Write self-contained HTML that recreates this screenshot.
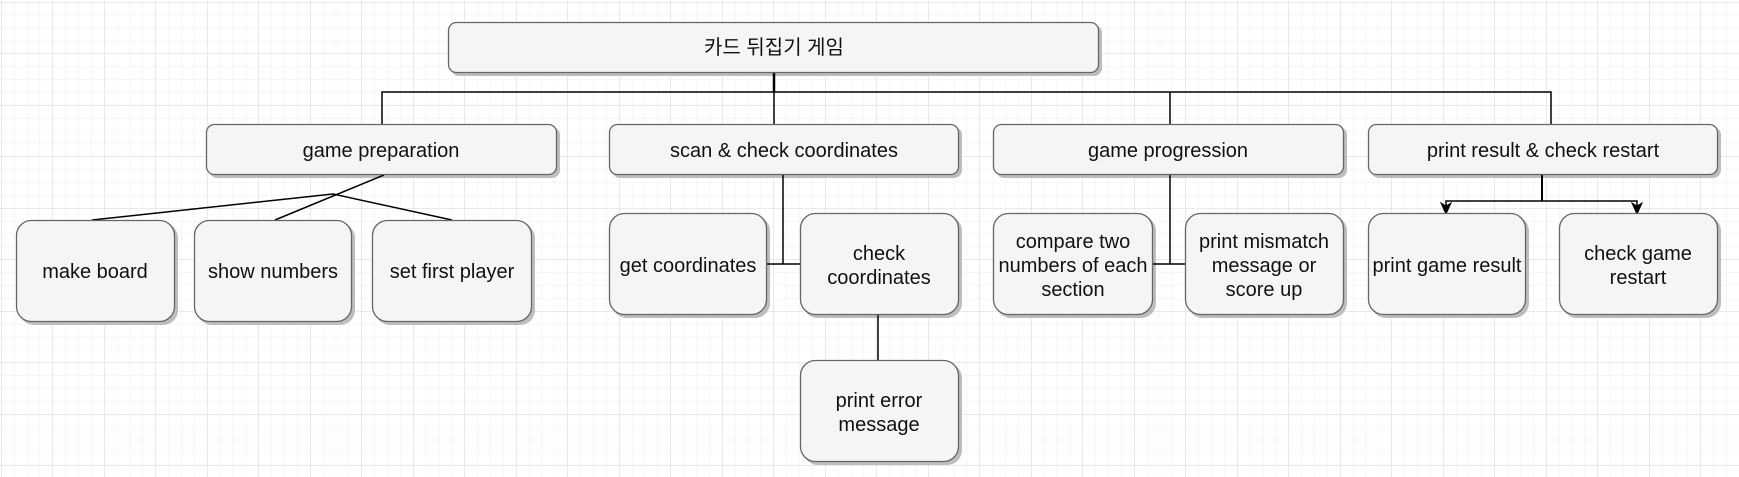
<!DOCTYPE html>
<html><head><meta charset="utf-8"><style>
html,body{margin:0;padding:0;background:#fff;}
svg{display:block;}
text{font-family:"Liberation Sans","Noto Sans CJK KR",sans-serif;font-size:20px;fill:#111;text-anchor:middle;}
</style></head><body>
<svg width="1739" height="477" viewBox="0 0 1739 477" xmlns="http://www.w3.org/2000/svg">
<defs>
<pattern id="minor" width="12.875" height="12.875" patternUnits="userSpaceOnUse" x="1" y="2">
<path d="M0 0H12.875M0 0V12.875" fill="none" stroke="#efefef" stroke-width="1"/>
</pattern>
<pattern id="major" width="51.5" height="51.5" patternUnits="userSpaceOnUse" x="1" y="2">
<path d="M0 0H51.5M0 0V51.5" fill="none" stroke="#d6d6d6" stroke-width="1"/>
</pattern>
<marker id="arr" markerWidth="10" markerHeight="10" refX="5" refY="9" orient="0" markerUnits="userSpaceOnUse">
<path d="M0 0L5 10L10 0L5 3Z" fill="#000"/>
</marker>
</defs>
<rect width="1739" height="477" fill="#fff"/>
<rect width="1739" height="477" fill="url(#minor)"/>
<rect width="1739" height="477" fill="url(#major)"/>

<g fill="#bdbdbd">
<rect x="451" y="25" width="651" height="51" rx="8"/>
<rect x="209" y="127" width="351" height="51" rx="8"/>
<rect x="612" y="127" width="350" height="51" rx="8"/>
<rect x="996" y="127" width="351" height="51" rx="8"/>
<rect x="1371" y="127" width="350" height="51" rx="8"/>
<rect x="19" y="223" width="159" height="102" rx="15"/>
<rect x="197" y="223" width="158" height="102" rx="15"/>
<rect x="375" y="223" width="160" height="102" rx="15"/>
<rect x="612" y="216" width="158" height="102" rx="15"/>
<rect x="803" y="216" width="159" height="102" rx="15"/>
<rect x="996" y="216" width="160" height="102" rx="15"/>
<rect x="1188" y="216" width="159" height="102" rx="15"/>
<rect x="1371" y="216" width="158" height="102" rx="15"/>
<rect x="1562" y="216" width="159" height="102" rx="15"/>
<rect x="803" y="363" width="159" height="102" rx="15"/>
</g>

<g fill="none" stroke="#000" stroke-width="1.5">
<path d="M774 73V92" stroke-width="2.5"/>
<path d="M382 124V92H1551V124M774 92V124M1170 92V124"/>
<path d="M384 175L275 220M92 220L333 194L452 220"/>
<path d="M783 175V264M767 264H800"/>
<path d="M1170 175V264M1153 264H1185"/>
<path d="M878 315V360"/>
<path d="M1542 175V201" stroke-width="2"/>
<path d="M1446 211V201H1637V211"/>
</g>
<path d="M1441 203L1446 214L1451 203L1446 206Z" fill="#000" stroke="#000"/>
<path d="M1632 203L1637 214L1642 203L1637 206Z" fill="#000" stroke="#000"/>

<g fill="#f5f5f5" stroke="#666" stroke-width="1.3">
<rect x="448.5" y="22.5" width="650" height="50" rx="8"/>
<rect x="206.5" y="124.5" width="350" height="50" rx="8"/>
<rect x="609.5" y="124.5" width="349" height="50" rx="8"/>
<rect x="993.5" y="124.5" width="350" height="50" rx="8"/>
<rect x="1368.5" y="124.5" width="349" height="50" rx="8"/>
<rect x="16.5" y="220.5" width="158" height="101" rx="15"/>
<rect x="194.5" y="220.5" width="157" height="101" rx="15"/>
<rect x="372.5" y="220.5" width="159" height="101" rx="15"/>
<rect x="609.5" y="213.5" width="157" height="101" rx="15"/>
<rect x="800.5" y="213.5" width="158" height="101" rx="15"/>
<rect x="993.5" y="213.5" width="159" height="101" rx="15"/>
<rect x="1185.5" y="213.5" width="158" height="101" rx="15"/>
<rect x="1368.5" y="213.5" width="157" height="101" rx="15"/>
<rect x="1559.5" y="213.5" width="158" height="101" rx="15"/>
<rect x="800.5" y="360.5" width="158" height="101" rx="15"/>
</g>

<text x="774" y="54">카드 뒤집기 게임</text>
<text x="381" y="157">game preparation</text>
<text x="784" y="157">scan &amp; check coordinates</text>
<text x="1168" y="157">game progression</text>
<text x="1543" y="157">print result &amp; check restart</text>
<text x="95" y="278">make board</text>
<text x="273" y="278">show numbers</text>
<text x="452" y="278">set first player</text>
<text x="688" y="272">get coordinates</text>
<text x="879" y="260">check</text>
<text x="879" y="284">coordinates</text>
<text x="1073" y="248">compare two</text>
<text x="1073" y="272">numbers of each</text>
<text x="1073" y="296">section</text>
<text x="1264" y="248">print mismatch</text>
<text x="1264" y="272">message or</text>
<text x="1264" y="296">score up</text>
<text x="1447" y="272">print game result</text>
<text x="1638" y="260">check game</text>
<text x="1638" y="284">restart</text>
<text x="879" y="407">print error</text>
<text x="879" y="431">message</text>
</svg>
</body></html>
